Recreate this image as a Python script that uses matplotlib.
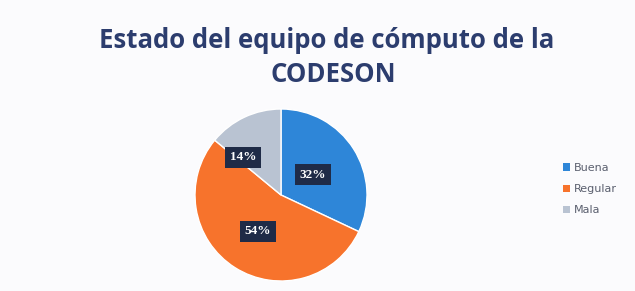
import numpy as np
import matplotlib
matplotlib.use("Agg")
import matplotlib.pyplot as plt
from matplotlib.patches import Patch

# data
categories = ["Buena", "Regular", "Mala"]
values = [32, 54, 14]
colors = ["#2e86d8", "#f7732c", "#b9c3d2"]

W, H = 635, 291
fig = plt.figure(figsize=(W / 100, H / 100), dpi=100)
fig.patch.set_facecolor("#fbfbfd")

# pie axes: centre ~ (281, 195) px, radius ~86 px
cx, cy, r = 281, 195, 86
ax = fig.add_axes([(cx - r) / W, (H - cy - r) / H, 2 * r / W, 2 * r / H])
wedges, texts, autotexts = ax.pie(
    values, colors=colors, startangle=90, counterclock=False,
    autopct="%1.0f%%", pctdistance=0.5,
    wedgeprops=dict(edgecolor="white", linewidth=1.0),
    textprops=dict(color="white", fontsize=9.5, fontweight="bold",
                   family="Liberation Serif"))
for t in autotexts:
    t.set_bbox(dict(boxstyle="square,pad=0.35", fc="#1f2b47", ec="none"))
# Mala label sits a bit further out / left in the original
x, y = autotexts[2].get_position()
ang = np.arctan2(y, x) + np.radians(20)
autotexts[2].set_position((0.62 * np.cos(ang), 0.62 * np.sin(ang)))
x, y = autotexts[0].get_position()
autotexts[0].set_position((x * 0.88, y * 0.88))
ax.set_xlim(-1, 1)
ax.set_ylim(-1, 1)
ax.set_aspect("equal")
ax.axis("off")

fig.text(327 / W, 1 - 40 / H, "Estado del equipo de cómputo de la",
         ha="center", va="center", fontsize=18.5, fontweight="bold",
         color="#2c3d6e", family="Open Sans")
fig.text(333 / W, 1 - 75 / H, "CODESON",
         ha="center", va="center", fontsize=18.5, fontweight="bold",
         color="#2c3d6e", family="Open Sans")

handles = [Patch(facecolor=c, edgecolor="none") for c in colors]
fig.legend(handles, categories, loc="center left",
           bbox_to_anchor=(553 / W, 1 - 189 / H), frameon=False,
           fontsize=8, labelcolor="#5a5f6e", handlelength=0.6,
           handleheight=0.6, handletextpad=0.4, labelspacing=1.0)

fig.savefig("out.png", dpi=100, facecolor=fig.get_facecolor())
